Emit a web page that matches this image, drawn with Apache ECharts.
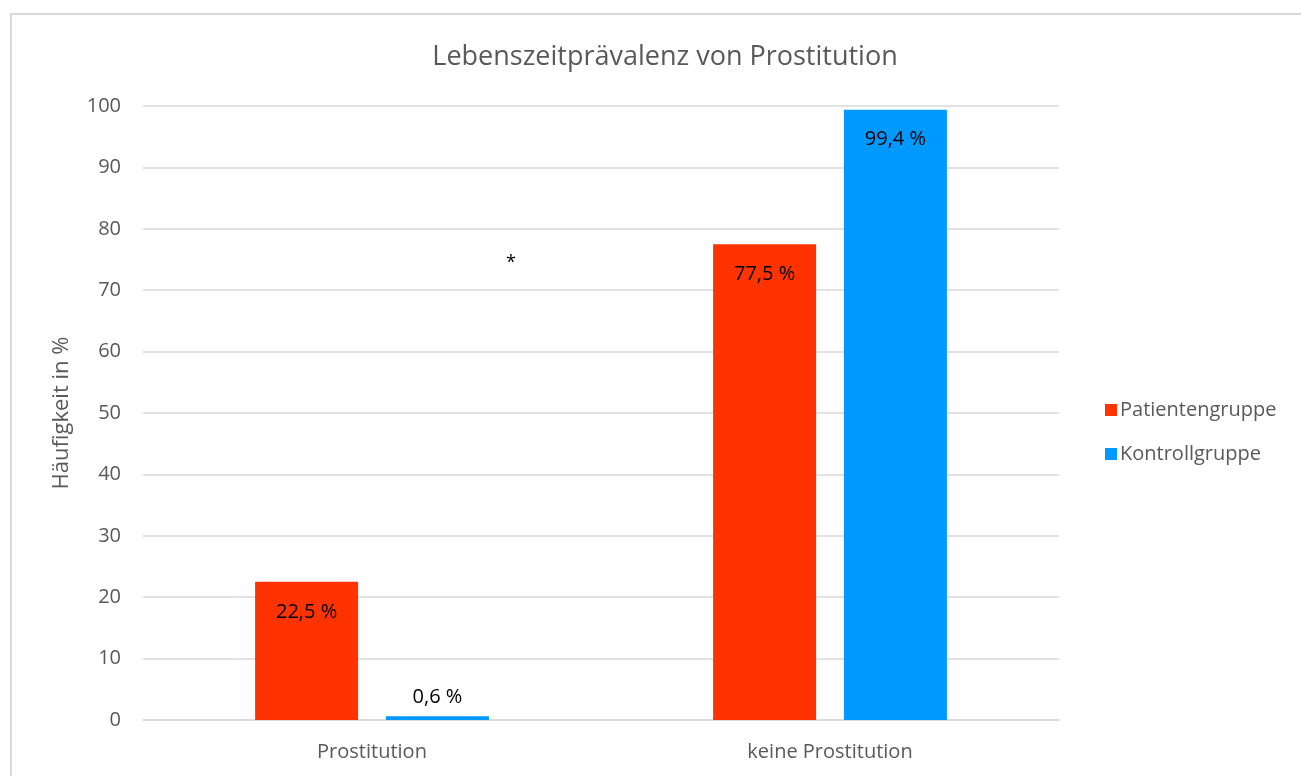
<!DOCTYPE html>
<html>
<head>
<meta charset="utf-8">
<script src="https://cdn.jsdelivr.net/npm/echarts@6/dist/echarts.min.js"></script>
<style>
  html, body { margin: 0; padding: 0; background: #fff; }
  #chart { width: 1301px; height: 776px; }
</style>
</head>
<body>
<div id="chart"></div>
<script>
// Lifetime prevalence of prostitution, patient vs. control group (in %)
const categories = ['Prostitution', 'keine Prostitution'];
const patientValues = [22.5, 77.5];
const controlValues = [0.6, 99.4];
const seriesNames = ['Patientengruppe', 'Kontrollgruppe'];

const FONT = '"Open Sans", Lato, sans-serif';
const GRAY = '#595959';

function fmt(v) {
  return v.toFixed(1).replace('.', ',') + ' %';
}

// Small bars get their label above, tall bars inside near the top
function labelled(values) {
  return values.map(v => ({
    value: v,
    label: v < 5
      ? { position: 'top', distance: 9 }
      : { position: 'insideTop', distance: 20 }
  }));
}

const chart = echarts.init(document.getElementById('chart'));
chart.setOption({
  animation: false,
  backgroundColor: '#fff',
  textStyle: { fontFamily: FONT },
  title: {
    text: 'Lebenszeitprävalenz von Prostitution',
    left: 660,
    top: 39,
    textAlign: 'center',
    textStyle: { fontFamily: FONT, fontSize: 27, fontWeight: 'normal', color: GRAY }
  },
  legend: {
    orient: 'vertical',
    left: 1100,
    top: 395,
    itemWidth: 12,
    itemHeight: 12,
    itemGap: 24,
    icon: 'rect',
    textStyle: { fontFamily: FONT, fontSize: 20, color: GRAY, padding: [0, 0, 0, -2] },
    data: seriesNames
  },
  grid: { left: 143, right: 242, top: 106, bottom: 56, containLabel: false },
  xAxis: {
    type: 'category',
    data: categories,
    axisTick: { show: false },
    axisLine: { lineStyle: { color: '#d9d9d9', width: 1.5 } },
    axisLabel: { fontFamily: FONT, fontSize: 20, color: GRAY, margin: 22 }
  },
  yAxis: {
    type: 'value',
    min: 0,
    max: 100,
    interval: 10,
    name: 'Häufigkeit in %',
    nameLocation: 'middle',
    nameGap: 70,
    nameTextStyle: { fontFamily: FONT, fontSize: 22, color: GRAY },
    axisLine: { show: false },
    axisTick: { show: false },
    axisLabel: { fontFamily: FONT, fontSize: 20, color: GRAY, margin: 22 },
    splitLine: { lineStyle: { color: '#d9d9d9', width: 1.5 } }
  },
  series: [
    {
      name: seriesNames[0],
      type: 'bar',
      data: labelled(patientValues),
      barWidth: 103,
      barGap: '27%',
      itemStyle: { color: '#FF3300' },
      label: { show: true, fontFamily: FONT, fontSize: 20, color: '#000', formatter: p => fmt(p.value) }
    },
    {
      name: seriesNames[1],
      type: 'bar',
      data: labelled(controlValues),
      barWidth: 103,
      barGap: '27%',
      itemStyle: { color: '#0099FF' },
      label: { show: true, fontFamily: FONT, fontSize: 20, color: '#000', formatter: p => fmt(p.value) }
    }
  ],
  graphic: [
    {
      type: 'rect',
      shape: { x: 11, y: 14, width: 1320, height: 800 },
      style: { fill: 'none', stroke: '#d9d9d9', lineWidth: 2 },
      silent: true
    },
    {
      type: 'text',
      left: 506,
      top: 254,
      style: { text: '*', fontFamily: FONT, fontSize: 18, fill: '#000' }
    }
  ]
});
</script>
</body>
</html>
